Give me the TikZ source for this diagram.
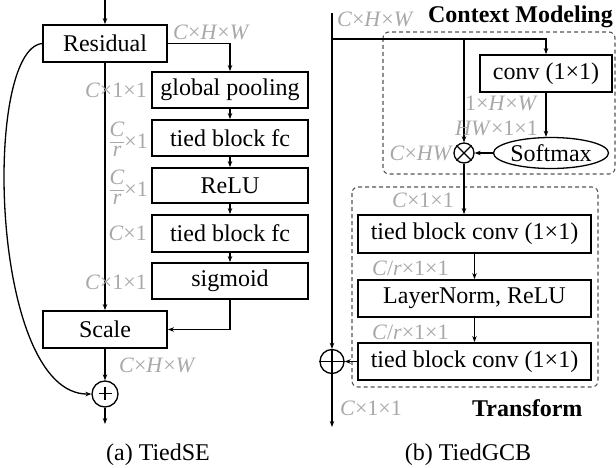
\documentclass[tikz,border=0pt]{standalone}
\usepackage{fontspec}
\setmainfont{Liberation Serif}
\usetikzlibrary{arrows.meta,shapes.geometric}
\definecolor{lblgray}{RGB}{168,168,168}
\definecolor{dashgray}{RGB}{85,85,85}
% compact stacked fraction for the channel-reduction labels
\newcommand\stackfrac[2]{\lower8pt\vbox{\offinterlineskip\halign{\hfil##\hfil\cr
  \fontsize{22}{24}\selectfont\itshape #1\cr\noalign{\kern6pt\hrule height0.8pt\kern3pt}
  \fontsize{22}{24}\selectfont\itshape #2\cr}}}
\tikzset{
  box/.style={draw, line width=1.8pt, rectangle, inner sep=0pt, font=\fontsize{24}{28}\selectfont},
  conn/.style={line width=1.3pt, -{Stealth[length=6pt,width=4.5pt]}},
  wire/.style={line width=1.3pt},
  lbl/.style={text=lblgray, inner sep=0pt, font=\fontsize{22}{24}\selectfont},
  ttl/.style={inner sep=0pt, font=\fontsize{24}{28}\selectfont\bfseries},
  subcaption/.style={inner sep=0pt, font=\fontsize{24}{28}\selectfont},
  group/.style={draw=dashgray, line width=1.1pt, dash pattern=on 4pt off 3pt, rounded corners=6pt},
  opnode/.style={circle, draw, line width=1.3pt, inner sep=0pt},
}
\begin{document}
\begin{tikzpicture}[x=1pt, y=-1pt]
\useasboundingbox (0,0) rectangle (616,468);

% ---------------- (a) TiedSE ----------------
\node[box, minimum width=124pt, minimum height=37pt] (res) at (105,43.5) {Residual};
\node[box, minimum width=156pt, minimum height=36pt] (gp) at (230,90) {global pooling};
\node[box, minimum width=156pt, minimum height=36pt] (fca) at (230,138) {tied block fc};
\node[box, minimum width=156pt, minimum height=35pt] (relu) at (230,185.5) {ReLU};
\node[box, minimum width=156pt, minimum height=37pt] (fcb) at (230,233.5) {tied block fc};
\node[box, minimum width=156pt, minimum height=36pt] (sig) at (230,281) {sigmoid};
\node[box, minimum width=124pt, minimum height=37pt] (scale) at (105,329.5) {Scale};
\node[opnode, minimum size=26pt] (add) at (105,394) {};
\draw[wire] (add.north) ++(0,6.5) -- ++(0,13) ++(-6.5,-6.5) -- ++(13,0);
\coordinate (ina) at (105,0);
\coordinate (outa) at (105,424);

\draw[conn] (ina) -- (res.north);
\draw[conn] (res.east) -| (gp.north);
\draw[conn] (gp) -- (fca);
\draw[conn] (fca) -- (relu);
\draw[conn] (relu) -- (fcb);
\draw[conn] (fcb) -- (sig);
\draw[conn] (res.south) -- (scale.north);
\draw[conn] (sig.south) |- (scale.east);
\draw[conn] (scale.south) -- (add.north);
\draw[conn] (add.south) -- (outa);
\draw[conn] (res.west) .. controls (-18,50) and (-10,395) .. (add.west);

\node[lbl, anchor=east] (la1) at (250,32) {\textit{C}×\textit{H}×\textit{W}};
\node[lbl, anchor=east] (la2) at (147,90) {\textit{C}×1×1};
\node[lbl, anchor=east] (la3) at (148,139) {\stackfrac{C}{r}×1};
\node[lbl, anchor=east] (la4) at (148,187) {\stackfrac{C}{r}×1};
\node[lbl, anchor=east] (la5) at (147,233) {\textit{C}×1};
\node[lbl, anchor=east] (la6) at (147,282) {\textit{C}×1×1};
\node[lbl, anchor=west] (la7) at (119,365) {\textit{C}×\textit{H}×\textit{W}};

\node[subcaption] (capa) at (158,455) {(a) TiedSE};

% ---------------- (b) TiedGCB ----------------
\draw[group] (383,32) rectangle (615,174);
\draw[group] (352,187) rectangle (598,387);

\node[box, minimum width=132pt, minimum height=37pt] (conv) at (546,73.5) {conv (1×1)};
\node[box, ellipse, line width=1.3pt, minimum width=111pt, minimum height=31pt] (soft) at (551,153) {Softmax};
\node[opnode, minimum size=20pt] (mul) at (464,153) {};
\draw[wire] (mul.north east) -- (mul.south west) (mul.north west) -- (mul.south east);
\node[box, minimum width=233pt, minimum height=38pt] (tba) at (474.5,234) {tied block conv (1×1)};
\node[box, minimum width=233pt, minimum height=37pt] (ln) at (474.5,298.5) {LayerNorm, ReLU};
\node[box, minimum width=233pt, minimum height=37pt] (tbb) at (474.5,361.5) {tied block conv (1×1)};
\node[opnode, minimum size=24pt] (sum) at (332,361.5) {};
\draw[wire] (sum.west) -- (sum.east);

\coordinate (inb) at (332,13);
\coordinate (split) at (332,39);
\coordinate (tap) at (464,39);
\coordinate (outb) at (332,427);

\draw[conn] (inb) -- (sum.north);
\draw[wire] (sum.north) -- (sum.south);
\draw[conn] (sum.south) -- (outb);
\draw[conn] (split) -| (conv.north);
\draw[conn] (tap) -- (mul.north);
\draw[conn] (conv.south) -- (conv.south |- soft.north);
\draw[conn] (soft.west) -- (mul.east);
\draw[conn] (mul.south) -- (mul.south |- tba.north);
\draw[conn] (tba) -- (ln);
\draw[conn] (ln) -- (tbb);
\draw[conn] (tbb.west) -- (sum.east);

\node[lbl, anchor=west] (lb1) at (337,19) {\textit{C}×\textit{H}×\textit{W}};
\node[ttl, anchor=east] (cm) at (613,17) {Context Modeling};
\node[lbl, anchor=west] (lb2) at (465,103) {1×\textit{H}×\textit{W}};
\node[lbl, anchor=west] (lb3) at (455,128) {\textit{HW}×1×1};
\node[lbl, anchor=east] (lb4) at (453,153) {\textit{C}×\textit{HW}};
\node[lbl, anchor=west] (lb5) at (392,200) {\textit{C}×1×1};
\node[lbl, anchor=west] (lb6) at (372,268) {\textit{C}/\textit{r}×1×1};
\node[lbl, anchor=west] (lb7) at (372,332) {\textit{C}/\textit{r}×1×1};
\node[lbl, anchor=west] (lb8) at (340,408) {\textit{C}×1×1};
\node[ttl, anchor=west] (tr) at (472,408) {Transform};

\node[subcaption] (capb) at (468,455) {(b) TiedGCB};
\end{tikzpicture}
\end{document}
